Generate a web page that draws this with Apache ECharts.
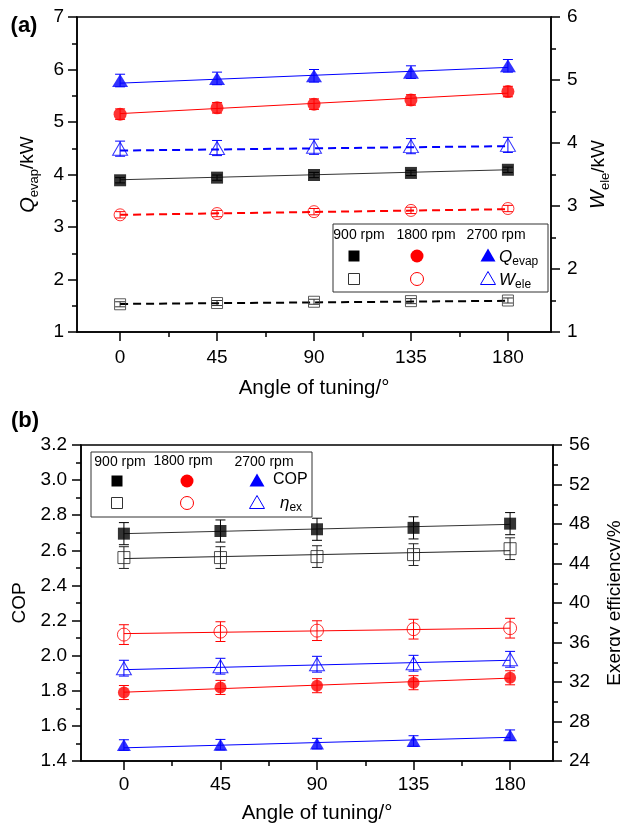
<!DOCTYPE html>
<html>
<head>
<meta charset="utf-8">
<script src="https://cdn.jsdelivr.net/npm/echarts@6/dist/echarts.min.js"></script>
<style>
html,body{margin:0;padding:0;background:#fff;}
#chart{width:620px;height:827px;}
</style>
</head>
<body>
<div id="chart"></div>
<script>
// ---------- data ----------
const angles = [0, 45, 90, 135, 180];
const fitAngles = [0, 180];
const xTickValues = [0, 45, 90, 135, 180];
const xMinorValues = [22.5, 67.5, 112.5, 157.5];

// panel (a): Q_evap (left axis, kW)
const qEvap900 = [3.89, 3.94, 3.99, 4.03, 4.09];
const qEvap900Err = [0.05, 0.05, 0.05, 0.05, 0.05];
const qEvap900Fit = [3.90, 4.09];
const qEvap1800 = [5.15, 5.27, 5.34, 5.42, 5.58];
const qEvap1800Err = [0.10, 0.10, 0.10, 0.10, 0.10];
const qEvap1800Fit = [5.16, 5.55];
const qEvap2700 = [5.79, 5.83, 5.88, 5.95, 6.07];
const qEvap2700Err = [0.12, 0.12, 0.12, 0.12, 0.12];
const qEvap2700Fit = [5.74, 6.04];
// panel (a): W_ele (right axis, kW)
const wEle900 = [1.44, 1.46, 1.48, 1.49, 1.50];
const wEle900Err = [0.04, 0.04, 0.04, 0.04, 0.04];
const wEle900Fit = [1.445, 1.495];
const wEle1800 = [2.86, 2.88, 2.91, 2.93, 2.96];
const wEle1800Err = [0.05, 0.05, 0.05, 0.05, 0.05];
const wEle1800Fit = [2.86, 2.95];
const wEle2700 = [3.91, 3.92, 3.94, 3.95, 3.97];
const wEle2700Err = [0.12, 0.12, 0.12, 0.12, 0.12];
const wEle2700Fit = [3.88, 3.95];

// panel (b): COP (left axis)
const cop900 = [2.695, 2.71, 2.72, 2.728, 2.752];
const cop900Err = [0.063, 0.063, 0.063, 0.063, 0.063];
const cop900Fit = [2.695, 2.748];
const cop1800 = [1.79, 1.819, 1.829, 1.846, 1.874];
const cop1800Err = [0.04, 0.04, 0.04, 0.04, 0.04];
const cop1800Fit = [1.792, 1.872];
const cop2700 = [1.491, 1.493, 1.499, 1.514, 1.547];
const cop2700Err = [0.03, 0.03, 0.03, 0.03, 0.03];
const cop2700Fit = [1.475, 1.535];
// panel (b): exergy efficiency (right axis, %)
const eta900 = [44.6, 44.6, 44.7, 44.9, 45.5];
const eta900Err = [1.1, 1.1, 1.1, 1.1, 1.1];
const eta900Fit = [44.5, 45.3];
const eta1800 = [36.8, 37.1, 37.2, 37.35, 37.45];
const eta1800Err = [1.0, 1.0, 1.0, 1.0, 1.0];
const eta1800Fit = [36.9, 37.45];
const eta2700 = [33.4, 33.6, 33.8, 33.9, 34.3];
const eta2700Err = [0.8, 0.8, 0.8, 0.8, 0.8];
const eta2700Fit = [33.25, 34.2];

// ---------- styling helpers ----------
const FONT = "'Liberation Sans', Arial, Helvetica, sans-serif";
const BLACK = '#000000', RED = '#ff0000', BLUE = '#0000ff';

function errorBarRender(params, api) {
  const x = api.value(0);
  const lo = api.coord([x, api.value(1)]);
  const hi = api.coord([x, api.value(2)]);
  const c = api.visual('color');
  const hw = 5;
  const st = {stroke: c, lineWidth: 1, fill: null};
  return {type: 'group', children: [
    {type: 'line', shape: {x1: lo[0], y1: lo[1], x2: hi[0], y2: hi[1]}, style: st},
    {type: 'line', shape: {x1: lo[0] - hw, y1: lo[1], x2: lo[0] + hw, y2: lo[1]}, style: st},
    {type: 'line', shape: {x1: hi[0] - hw, y1: hi[1], x2: hi[0] + hw, y2: hi[1]}, style: st}
  ]};
}

function makeSet(o) {
  const pts = angles.map((a, i) => [a, o.vals[i]]);
  const errs = angles.map((a, i) => [a, o.vals[i] - o.err[i], o.vals[i] + o.err[i]]);
  const fit = fitAngles.map((a, i) => [a, o.fit[i]]);
  return [
    {type: 'custom', name: o.name + ' err', xAxisIndex: o.x, yAxisIndex: o.y,
     renderItem: errorBarRender, data: errs, itemStyle: {color: o.color},
     encode: {x: 0, y: [1, 2]}, z: 1, silent: true},
    {type: 'line', name: o.name + ' fit', xAxisIndex: o.x, yAxisIndex: o.y, data: fit,
     showSymbol: false, symbol: 'none', z: 3, silent: true,
     lineStyle: {color: o.lineColor || o.color, width: o.dashed ? 2 : 1, type: o.dashed ? [8, 5] : 'solid'}},
    {type: 'scatter', name: o.name, xAxisIndex: o.x, yAxisIndex: o.y, data: pts,
     symbol: o.symbol, symbolSize: o.size, z: 10,
     itemStyle: o.filled ? {color: o.color} :
       {color: 'rgba(255,255,255,0)', borderColor: o.color, borderWidth: 1}}
  ];
}

const axisLineSt = {show: true, onZero: false, lineStyle: {color: BLACK, width: 1.5}};
const tickSt = {show: true, inside: false, length: 9, lineStyle: {color: BLACK, width: 1.5}};
const minorSt = {show: true, splitNumber: 2, length: 5, lineStyle: {color: BLACK, width: 1.5}};
const labelSt = {color: BLACK, fontSize: 19, fontFamily: FONT};

function xMain(grid, labelMargin, nameGap) {
  return {type: 'value', gridIndex: grid, min: -20, max: 200, position: 'bottom',
    axisLine: axisLineSt,
    axisTick: Object.assign({}, tickSt, {customValues: xTickValues}),
    axisLabel: Object.assign({}, labelSt, {customValues: xTickValues, margin: labelMargin}),
    splitLine: {show: false},
    name: 'Angle of tuning/°', nameLocation: 'middle', nameGap: nameGap,
    nameTextStyle: {color: BLACK, fontSize: 20.5, fontFamily: FONT}};
}
function xMinor(grid) {
  return {type: 'value', gridIndex: grid, min: -20, max: 200, position: 'bottom',
    axisLine: {show: false},
    axisTick: {show: true, inside: false, length: 5, customValues: xMinorValues,
      lineStyle: {color: BLACK, width: 1.5}},
    axisLabel: {show: false}, splitLine: {show: false}};
}
function yAxis(grid, pos, min, max, interval, name, gap, rich, fmt, margin) {
  return {type: 'value', gridIndex: grid, position: pos, min: min, max: max, interval: interval,
    axisLine: axisLineSt, axisTick: tickSt, minorTick: minorSt,
    splitLine: {show: false}, minorSplitLine: {show: false},
    axisLabel: Object.assign({}, labelSt, {margin: margin, formatter: fmt}),
    name: name, nameLocation: 'middle', nameRotate: 90, nameGap: gap,
    nameTextStyle: {color: BLACK, fontSize: 19, fontFamily: FONT, rich: rich}};
}
const subRich = {
  i: {fontStyle: 'italic', fontSize: 20, fontFamily: FONT, color: BLACK, lineHeight: 26, verticalAlign: 'middle'},
  s: {fontSize: 13, fontFamily: FONT, color: BLACK, lineHeight: 13, verticalAlign: 'bottom'},
  n: {fontSize: 19, fontFamily: FONT, color: BLACK, lineHeight: 26, verticalAlign: 'middle'}
};

const series = [].concat(
  makeSet({name: 'Qevap 900', x: 0, y: 0, vals: qEvap900, err: qEvap900Err, fit: qEvap900Fit, color: BLACK, lineColor: '#333', symbol: 'rect', size: 12, filled: true}),
  makeSet({name: 'Qevap 1800', x: 0, y: 0, vals: qEvap1800, err: qEvap1800Err, fit: qEvap1800Fit, color: RED, symbol: 'circle', size: 13, filled: true}),
  makeSet({name: 'Qevap 2700', x: 0, y: 0, vals: qEvap2700, err: qEvap2700Err, fit: qEvap2700Fit, color: BLUE, symbol: 'triangle', size: [16, 13], filled: true}),
  makeSet({name: 'Wele 900', x: 0, y: 1, vals: wEle900, err: wEle900Err, fit: wEle900Fit, color: '#333', lineColor: BLACK, dashed: true, symbol: 'rect', size: 11, filled: false}),
  makeSet({name: 'Wele 1800', x: 0, y: 1, vals: wEle1800, err: wEle1800Err, fit: wEle1800Fit, color: RED, dashed: true, symbol: 'circle', size: 12, filled: false}),
  makeSet({name: 'Wele 2700', x: 0, y: 1, vals: wEle2700, err: wEle2700Err, fit: wEle2700Fit, color: BLUE, dashed: true, symbol: 'triangle', size: [15, 13], filled: false}),
  makeSet({name: 'COP 900', x: 2, y: 2, vals: cop900, err: cop900Err, fit: cop900Fit, color: BLACK, lineColor: '#333', symbol: 'rect', size: 12, filled: true}),
  makeSet({name: 'COP 1800', x: 2, y: 2, vals: cop1800, err: cop1800Err, fit: cop1800Fit, color: RED, symbol: 'circle', size: 12, filled: true}),
  makeSet({name: 'COP 2700', x: 2, y: 2, vals: cop2700, err: cop2700Err, fit: cop2700Fit, color: BLUE, symbol: 'triangle', size: [14, 12], filled: true}),
  makeSet({name: 'eta 900', x: 2, y: 3, vals: eta900, err: eta900Err, fit: eta900Fit, color: '#222', lineColor: '#222', symbol: 'rect', size: 12, filled: false}),
  makeSet({name: 'eta 1800', x: 2, y: 3, vals: eta1800, err: eta1800Err, fit: eta1800Fit, color: RED, symbol: 'circle', size: 13, filled: false}),
  makeSet({name: 'eta 2700', x: 2, y: 3, vals: eta2700, err: eta2700Err, fit: eta2700Fit, color: BLUE, symbol: 'triangle', size: [15, 13], filled: false})
);

// ---------- legend (drawn as graphic) ----------
function tri(cx, cy, w, h, color, filled) {
  return {type: 'polygon', shape: {points: [[cx, cy - h / 2], [cx + w / 2, cy + h / 2], [cx - w / 2, cy + h / 2]]},
    style: filled ? {fill: color} : {fill: 'none', stroke: color, lineWidth: 1}};
}
function sq(cx, cy, s, color, filled) {
  return {type: 'rect', shape: {x: cx - s / 2, y: cy - s / 2, width: s, height: s},
    style: filled ? {fill: color} : {fill: 'none', stroke: color, lineWidth: 1}};
}
function circ(cx, cy, r, color, filled) {
  return {type: 'circle', shape: {cx: cx, cy: cy, r: r},
    style: filled ? {fill: color} : {fill: 'none', stroke: color, lineWidth: 1}};
}
function txt(x, y, text, size, align, rich) {
  return {type: 'text', x: x, y: y, style: {text: text, fontSize: size, fontFamily: FONT, fill: BLACK,
    align: align || 'center', verticalAlign: 'middle', rich: rich}};
}
const legRich = {
  i: {fontStyle: 'italic', fontSize: 17, fontFamily: FONT, fill: BLACK, color: BLACK, lineHeight: 22, verticalAlign: 'middle'},
  s: {fontSize: 12, fontFamily: FONT, fill: BLACK, color: BLACK, lineHeight: 12, verticalAlign: 'bottom'}
};
const graphic = [
  txt(24, 26, '(a)', 22, 'center'),
  txt(25, 421, '(b)', 22, 'center'),
  // legend a
  {type: 'rect', shape: {x: 333, y: 224, width: 215, height: 68}, style: {fill: '#fff', stroke: '#333', lineWidth: 1}},
  txt(359, 235, '900 rpm', 14), txt(426, 235, '1800 rpm', 14), txt(496, 235, '2700 rpm', 14),
  sq(354, 256, 11, BLACK, true), circ(417, 256, 6.5, RED, true), tri(488, 255, 15, 13, BLUE, true),
  txt(499, 257, '{i|Q}{s|evap}', 17, 'left', legRich),
  sq(354, 279, 11, '#333', false), circ(417, 279, 6.5, RED, false), tri(488, 278, 15, 13, BLUE, false),
  txt(499, 280, '{i|W}{s|ele}', 17, 'left', legRich),
  // legend b
  {type: 'rect', shape: {x: 91, y: 452, width: 221, height: 65}, style: {fill: '#fff', stroke: '#333', lineWidth: 1}},
  txt(120, 462, '900 rpm', 14), txt(183, 461, '1800 rpm', 14), txt(264, 462, '2700 rpm', 14),
  sq(117, 481, 11, BLACK, true), circ(187, 481, 6.5, RED, true), tri(257, 480, 15, 13, BLUE, true),
  txt(273, 480, 'COP', 16, 'left'),
  sq(117, 503, 11, '#333', false), circ(187, 503, 6.5, RED, false), tri(257, 502, 15, 13, BLUE, false),
  txt(280, 503, '{i|η}{s|ex}', 16, 'left', legRich)
];
graphic[0].style.fontWeight = 'bold';
graphic[1].style.fontWeight = 'bold';
graphic.forEach(g => { g.z = 100; });

const option = {
  animation: false,
  backgroundColor: '#fff',
  textStyle: {fontFamily: FONT},
  grid: [
    {left: 77, top: 17, width: 474, height: 315, show: true, borderColor: BLACK, borderWidth: 1.5,
     containLabel: false, outerBoundsMode: 'none'},
    {left: 81, top: 445, width: 472, height: 316, show: true, borderColor: BLACK, borderWidth: 1.5,
     containLabel: false, outerBoundsMode: 'none'}
  ],
  xAxis: [xMain(0, 16, 46), xMinor(0), xMain(1, 14, 42), xMinor(1)],
  yAxis: [
    yAxis(0, 'left', 1, 7, 1, '{i|Q}{s|evap}{n|/kW}', 36, subRich, null, 13),
    yAxis(0, 'right', 1, 6, 1, '{i|W}{s|ele}{n|/kW}', 34, subRich, null, 16),
    yAxis(1, 'left', 1.4, 3.2, 0.2, 'COP', 44, subRich, v => v.toFixed(1), 14),
    yAxis(1, 'right', 24, 56, 4, 'Exergy efficiency/%', 52, subRich, null, 16)
  ],
  series: series,
  graphic: graphic
};
const chart = echarts.init(document.getElementById('chart'), null, {renderer: 'canvas'});
chart.setOption(option);
</script>
</body>
</html>
